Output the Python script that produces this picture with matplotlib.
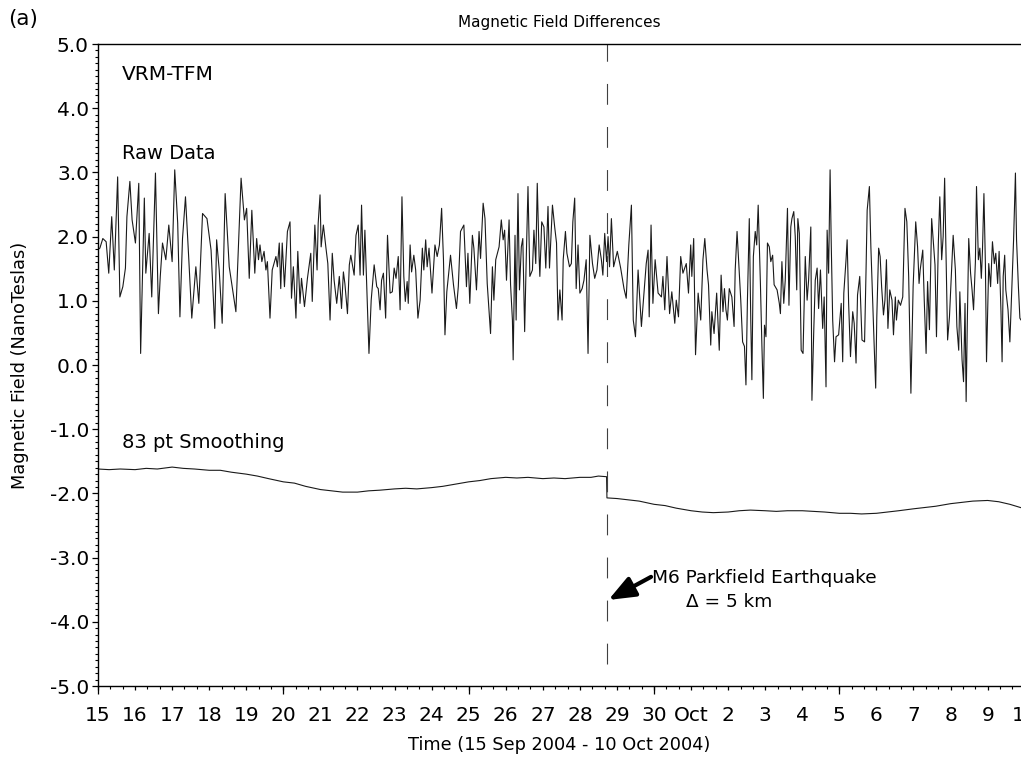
import matplotlib
matplotlib.use('Agg')
import matplotlib.pyplot as plt
import numpy as np

plt.rcParams['font.family'] = ['DejaVu Sans']
plt.rcParams['lines.scale_dashes'] = False

# ---- data: time in days since 15 Sep 2004 00:00, field in nT ----
raw_seg1 = [(0.00, 1.80), (0.05, 1.82), (0.13, 1.97), (0.22, 1.92), (0.29, 1.43), (0.37, 2.31), (0.44, 1.48),
            (0.53, 2.93), (0.59, 1.06), (0.67, 1.22), (0.74, 1.51), (0.78, 2.31), (0.86, 2.86), (0.92, 2.26),
            (1.01, 1.90), (1.10, 2.83), (1.15, 0.18), (1.25, 2.60), (1.29, 1.43), (1.38, 2.05), (1.45, 1.06),
            (1.55, 2.99), (1.63, 0.80), (1.68, 1.38), (1.74, 1.90), (1.83, 1.64), (1.91, 2.18), (2.00, 1.61),
            (2.07, 3.04), (2.15, 2.21), (2.21, 0.75), (2.28, 1.97), (2.36, 2.62), (2.45, 1.64), (2.53, 0.73),
            (2.64, 1.53), (2.72, 0.96), (2.82, 2.36), (2.94, 2.28), (3.05, 1.79), (3.15, 0.57), (3.20, 1.95),
            (3.27, 1.48), (3.35, 0.65), (3.43, 2.67), (3.54, 1.53), (3.72, 0.83), (3.86, 2.91), (3.95, 2.26),
            (4.01, 2.44), (4.08, 1.35), (4.15, 2.41)]
raw_seg2 = [(4.23, 1.43), (4.28, 1.97), (4.33, 1.64), (4.37, 1.87), (4.42, 1.61), (4.48, 1.77), (4.53, 1.48),
            (4.57, 1.61), (4.64, 0.73), (4.70, 1.48), (4.80, 1.69), (4.84, 1.53), (4.89, 1.90), (4.93, 1.19),
            (4.97, 1.90), (5.03, 1.22), (5.11, 2.08), (5.18, 2.23), (5.22, 1.04), (5.27, 1.53), (5.34, 0.73),
            (5.39, 1.77), (5.45, 0.96), (5.49, 1.35), (5.57, 0.91), (5.65, 1.35), (5.74, 1.74), (5.78, 0.99),
            (5.85, 2.18), (5.91, 1.48), (5.94, 2.21), (5.99, 2.65), (6.02, 1.84), (6.08, 2.18), (6.15, 1.82),
            (6.20, 1.58), (6.26, 0.70), (6.32, 1.74), (6.37, 1.32), (6.44, 0.96), (6.51, 1.38), (6.57, 0.88),
            (6.62, 1.45), (6.66, 1.27), (6.73, 0.80), (6.78, 1.56), (6.82, 1.71), (6.91, 1.40), (6.96, 2.02),
            (7.02, 2.18), (7.07, 1.40), (7.11, 2.49), (7.16, 1.40), (7.20, 2.10), (7.25, 1.22), (7.31, 0.18),
            (7.37, 1.01), (7.45, 1.56), (7.52, 1.22), (7.56, 1.19), (7.61, 0.86), (7.65, 1.32), (7.70, 1.43),
            (7.76, 0.73), (7.81, 2.02), (7.88, 1.12), (7.94, 1.14), (7.99, 1.51), (8.04, 1.35), (8.10, 1.69),
            (8.15, 0.86), (8.20, 2.62), (8.25, 1.38), (8.29, 0.99)]
raw_seg3 = [(8.34, 1.30), (8.37, 0.96), (8.42, 1.87), (8.46, 1.45), (8.52, 1.71), (8.57, 1.48), (8.63, 0.73),
            (8.69, 1.01), (8.75, 1.82), (8.79, 1.48), (8.84, 1.95), (8.88, 1.53), (8.93, 1.82), (9.01, 1.12),
            (9.09, 1.87), (9.15, 1.69), (9.21, 1.87), (9.27, 2.44), (9.32, 1.64), (9.36, 0.47), (9.41, 1.14),
            (9.51, 1.71), (9.59, 1.25), (9.67, 0.88), (9.72, 1.22), (9.78, 2.08), (9.87, 2.18), (9.94, 1.22),
            (9.98, 1.74), (10.03, 0.96), (10.10, 2.02), (10.14, 1.82), (10.21, 1.17), (10.28, 2.08), (10.32, 1.66),
            (10.39, 2.52), (10.44, 2.28), (10.50, 1.27), (10.59, 0.49), (10.64, 1.53), (10.68, 1.01), (10.73, 1.64),
            (10.82, 1.84), (10.88, 2.26), (10.93, 1.95), (10.97, 2.10), (11.02, 1.32), (11.09, 2.26), (11.13, 1.25),
            (11.18, 0.70), (11.20, 0.08), (11.25, 2.02), (11.28, 0.70), (11.33, 2.67), (11.37, 1.17), (11.42, 1.84),
            (11.46, 1.97), (11.51, 0.52), (11.55, 1.58), (11.60, 2.78), (11.65, 1.38), (11.72, 1.48), (11.76, 2.10),
            (11.81, 1.58), (11.85, 2.83), (11.90, 1.69), (11.92, 1.38), (11.97, 2.23), (12.03, 2.15), (12.08, 1.51),
            (12.14, 2.47), (12.18, 1.51), (12.26, 2.49), (12.32, 2.15), (12.37, 1.90), (12.41, 0.70), (12.46, 1.17)]
raw_seg4 = [(12.52, 0.70), (12.55, 1.64), (12.61, 2.08), (12.65, 1.74), (12.72, 1.53), (12.77, 1.58), (12.81, 2.23),
            (12.86, 2.60), (12.90, 1.19), (12.95, 1.87), (13.00, 1.12), (13.06, 1.19), (13.11, 1.32), (13.17, 1.64),
            (13.22, 0.18), (13.27, 2.02), (13.34, 1.58), (13.40, 1.35), (13.46, 1.48), (13.52, 1.87), (13.58, 1.64),
            (13.62, 1.40), (13.67, 2.05), (13.72, 1.61), (13.76, 2.00), (13.80, 1.53), (13.85, 2.28), (13.91, 1.53),
            (14.01, 1.77), (14.10, 1.51), (14.19, 1.19), (14.25, 1.04), (14.32, 1.87), (14.39, 2.49), (14.44, 0.70),
            (14.50, 0.44), (14.57, 1.48), (14.66, 0.60), (14.73, 1.12), (14.79, 1.58), (14.84, 1.79), (14.87, 0.75),
            (14.92, 2.18), (14.97, 0.96), (15.03, 1.64), (15.11, 1.12), (15.20, 1.06), (15.24, 1.38), (15.29, 0.86),
            (15.35, 1.69), (15.42, 0.80), (15.48, 1.14), (15.56, 0.65), (15.60, 1.01), (15.66, 0.75), (15.72, 1.69),
            (15.78, 1.43), (15.87, 1.58), (15.93, 1.12), (15.99, 1.87), (16.02, 1.38), (16.07, 1.97), (16.12, 0.16),
            (16.19, 1.12), (16.26, 0.70), (16.32, 1.64), (16.37, 1.97), (16.43, 1.48), (16.47, 1.25), (16.53, 0.31),
            (16.56, 0.83), (16.62, 0.49)]
raw_seg5 = [(16.69, 1.12), (16.76, 0.23), (16.81, 1.40), (16.86, 0.83), (16.90, 1.19), (16.94, 0.86), (16.98, 0.70),
            (17.03, 1.19), (17.10, 1.06), (17.16, 0.60), (17.19, 1.48), (17.24, 2.08), (17.28, 1.64), (17.34, 1.01),
            (17.39, 0.36), (17.44, 0.29), (17.48, -0.31), (17.52, 1.01), (17.57, 2.28), (17.61, 0.70), (17.64, -0.23),
            (17.68, 1.69), (17.73, 2.08), (17.77, 1.87), (17.81, 2.49), (17.87, 1.27), (17.91, 0.31), (17.95, -0.52),
            (17.98, 0.62), (18.02, 0.44), (18.06, 1.90), (18.11, 1.84), (18.15, 1.61), (18.20, 1.71), (18.24, 1.25),
            (18.32, 1.17), (18.38, 0.96), (18.41, 0.80), (18.45, 1.61), (18.50, 0.96), (18.54, 1.32), (18.60, 2.44),
            (18.64, 0.93), (18.69, 2.15), (18.72, 2.28), (18.77, 2.39), (18.81, 2.00), (18.85, 1.17), (18.88, 2.28),
            (18.92, 2.05), (18.97, 0.23), (19.02, 0.18), (19.08, 1.69), (19.13, 1.01), (19.17, 1.32), (19.23, 2.15),
            (19.26, -0.55), (19.31, 0.55), (19.35, 1.32), (19.40, 1.51), (19.44, 0.88), (19.49, 1.48), (19.55, 0.57),
            (19.59, 1.06), (19.64, -0.34), (19.67, 2.10), (19.71, 1.43), (19.75, 3.04), (19.78, 1.92), (19.82, 0.70),
            (19.87, 0.05), (19.91, 0.44), (19.98, 0.47), (20.05, 0.96), (20.09, 0.05), (20.12, 1.12), (20.18, 1.64),
            (20.21, 1.95), (20.25, 0.96), (20.30, 0.13), (20.36, 0.83), (20.40, 0.65), (20.45, 0.03), (20.49, 1.09),
            (20.55, 1.38), (20.61, 0.39), (20.68, 0.36), (20.72, 1.48), (20.75, 2.41)]
raw_seg6 = [(20.81, 2.78), (20.85, 1.84), (20.90, 0.96), (20.94, 0.29), (20.98, -0.36), (21.01, 0.75), (21.06, 1.82),
            (21.10, 1.69), (21.14, 1.22), (21.19, 0.78), (21.23, 1.01), (21.27, 1.64), (21.31, 0.57), (21.36, 1.17),
            (21.42, 1.01), (21.46, 0.47), (21.51, 1.06), (21.54, 0.70), (21.59, 1.01), (21.65, 0.93), (21.71, 1.06),
            (21.77, 2.44), (21.82, 2.23), (21.87, 1.38), (21.93, -0.44), (21.99, 1.22), (22.06, 2.23), (22.11, 1.84),
            (22.15, 1.27), (22.18, 1.48), (22.25, 1.79), (22.29, 1.01), (22.34, 0.18), (22.38, 1.30), (22.43, 0.55),
            (22.49, 2.28), (22.53, 1.95), (22.58, 1.56), (22.62, 0.44), (22.67, 1.90), (22.71, 2.62), (22.76, 1.64),
            (22.80, 2.00), (22.84, 2.91), (22.88, 1.64), (22.92, 0.39), (22.97, 0.75), (23.02, 1.38), (23.07, 2.02),
            (23.13, 1.48), (23.17, 0.60), (23.22, 0.23), (23.25, 1.14), (23.31, 0.08), (23.35, -0.26), (23.39, 0.96),
            (23.42, -0.57), (23.45, 0.60), (23.49, 1.97), (23.54, 1.43), (23.58, 1.17), (23.62, 0.86), (23.67, 1.61),
            (23.70, 2.78), (23.75, 1.64), (23.79, 1.82), (23.83, 1.35), (23.86, 1.77), (23.90, 2.67), (23.94, 1.56),
            (23.97, 0.05), (24.03, 1.58), (24.08, 1.22), (24.13, 1.92), (24.18, 1.58), (24.22, 1.74), (24.27, 1.27),
            (24.31, 1.77), (24.36, 0.83), (24.39, 0.05), (24.42, 1.38), (24.46, 1.71), (24.49, 1.17), (24.55, 0.86),
            (24.60, 0.36), (24.65, 1.17), (24.70, 1.95), (24.75, 2.99), (24.78, 1.95), (24.83, 1.22), (24.87, 0.73),
            (24.90, 0.70), (24.98, 0.75)]

smooth_pts = [(0.0, -1.62), (0.3, -1.63), (0.6, -1.62), (1.0, -1.63), (1.3, -1.61), (1.6, -1.62), (2.0, -1.59),
              (2.3, -1.61), (2.6, -1.62), (3.0, -1.64), (3.3, -1.64), (3.6, -1.67), (4.0, -1.70), (4.3, -1.73),
              (4.6, -1.77), (5.0, -1.82), (5.3, -1.84), (5.6, -1.89), (6.0, -1.94), (6.3, -1.96), (6.6, -1.98),
              (7.0, -1.98), (7.3, -1.96), (7.6, -1.95), (8.0, -1.93), (8.3, -1.92), (8.6, -1.93), (9.0, -1.91),
              (9.3, -1.89), (9.6, -1.86), (10.0, -1.82), (10.3, -1.80), (10.6, -1.77), (11.0, -1.75),
              (11.3, -1.76), (11.6, -1.75), (12.0, -1.77), (12.3, -1.76), (12.6, -1.77), (13.0, -1.75),
              (13.3, -1.75), (13.5, -1.73), (13.72, -1.74), (13.73, -2.07), (14.0, -2.08), (14.3, -2.10),
              (14.6, -2.12), (15.0, -2.17), (15.3, -2.19), (15.6, -2.23), (16.0, -2.27), (16.3, -2.29),
              (16.6, -2.30), (17.0, -2.29), (17.3, -2.27), (17.6, -2.26), (18.0, -2.27), (18.3, -2.28),
              (18.6, -2.27), (19.0, -2.27), (19.3, -2.28), (19.6, -2.29), (20.0, -2.31), (20.3, -2.31),
              (20.6, -2.32), (21.0, -2.31), (21.3, -2.29), (21.6, -2.27), (22.0, -2.24), (22.3, -2.22),
              (22.6, -2.20), (23.0, -2.16), (23.3, -2.14), (23.6, -2.12), (24.0, -2.11), (24.3, -2.13),
              (24.6, -2.17), (25.0, -2.24)]

quake_day = 13.72
quake_line_bottom = -4.65
day_labels = ['15', '16', '17', '18', '19', '20', '21', '22', '23', '24', '25', '26', '27', '28', '29', '30',
              'Oct', '2', '3', '4', '5', '6', '7', '8', '9', '10']
y_ticks = [-5.0, -4.0, -3.0, -2.0, -1.0, 0.0, 1.0, 2.0, 3.0, 4.0, 5.0]

# ---- figure ----
W, H = 1021, 757
fig = plt.figure(figsize=(W / 100, H / 100), dpi=100)
ax = fig.add_axes([98 / W, 1 - 686 / H, (1024.7 - 98) / W, (686 - 44) / H])

raw = np.array(raw_seg1 + raw_seg2 + raw_seg3 + raw_seg4 + raw_seg5 + raw_seg6)
ax.plot(raw[:, 0], raw[:, 1], color='#1a1a1a', lw=0.8)
sm = np.array(smooth_pts)
ax.plot(sm[:, 0], sm[:, 1], color='#1a1a1a', lw=0.8)
ax.plot([quake_day, quake_day], [quake_line_bottom, 5.0], color='#404040', lw=0.8,
        linestyle=(0, (15, 16)))

ax.set_xlim(0, 25)
ax.set_ylim(-5, 5)
ax.spines['right'].set_visible(False)
for s in ['left', 'bottom', 'top']:
    ax.spines[s].set_linewidth(1.0)

ax.set_yticks(y_ticks)
ax.set_yticklabels([f'{v:.1f}' for v in y_ticks])
ax.set_yticks(np.arange(-5, 5.001, 0.1), minor=True)
ax.tick_params(axis='y', which='major', direction='out', length=4.5, width=0.9, labelsize=14.5, pad=2)
ax.tick_params(axis='y', which='minor', direction='out', length=2.0, width=0.8)

ax.set_xticks(np.arange(0, 26, 1))
ax.set_xticklabels(day_labels)
ax.set_xticks(np.arange(0, 25.01, 1 / 3), minor=True)
ax.tick_params(axis='x', which='major', direction='out', length=3.0, width=0.9, labelsize=14.5, pad=11.5)
ax.tick_params(axis='x', which='minor', direction='out', length=2.0, width=0.8)
sec = ax.secondary_xaxis('bottom')
sec.set_xticks(np.arange(0, 26, 5))
sec.set_xticklabels([])
sec.tick_params(direction='out', length=6, width=0.9)
sec.spines['bottom'].set_visible(False)

ax.text(0.65, 4.52, 'VRM-TFM', fontsize=14.5, va='center', ha='left')
ax.text(0.65, 3.30, 'Raw Data', fontsize=14, va='center', ha='left')
ax.text(0.65, -1.20, '83 pt Smoothing', fontsize=14, va='center', ha='left')
ax.text(14.94, -3.32, 'M6 Parkfield Earthquake', fontsize=13.3, va='center', ha='left')
ax.text(15.86, -3.69, '\u0394 = 5 km', fontsize=13.3, va='center', ha='left')
ax.annotate('', xy=(quake_day + 0.05, -3.66), xytext=(14.92, -3.30),
            arrowprops=dict(arrowstyle='-|>,head_length=0.8,head_width=0.32', color='black', lw=3.0,
                            mutation_scale=20, shrinkA=0, shrinkB=0))

fig.text(8 / W, 1 - 19 / H, '(a)', fontsize=15.5, ha='left', va='center')
fig.text(559 / W, 1 - 22 / H, 'Magnetic Field Differences', fontsize=11, ha='center', va='center')
fig.text(559 / W, 1 - 745 / H, 'Time (15 Sep 2004 - 10 Oct 2004)', fontsize=12.8, ha='center', va='center')
fig.text(20 / W, 1 - 365 / H, 'Magnetic Field (NanoTeslas)', fontsize=12.8, ha='center', va='center',
         rotation=90)

fig.savefig('out.png', dpi=100)
